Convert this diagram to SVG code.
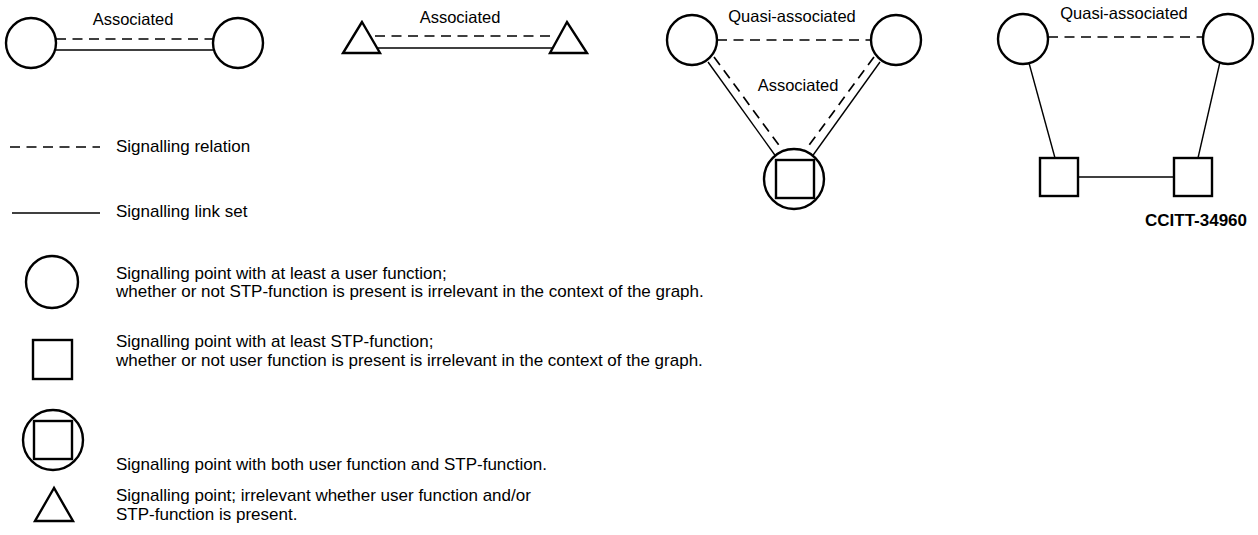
<svg xmlns="http://www.w3.org/2000/svg" width="1258" height="535" viewBox="0 0 1258 535">
<style>
.n{fill:#fff;stroke:#000;stroke-width:2.4}
.s{fill:none;stroke:#000;stroke-width:1.4}
.d{fill:none;stroke:#000;stroke-width:1.7;stroke-dasharray:10,6.5}
.t{font-family:"Liberation Sans",Arial,sans-serif;font-size:16.5px;fill:#000}
.l{font-family:"Liberation Sans",Arial,sans-serif;font-size:17px;fill:#000}
.b{font-family:"Liberation Sans",Arial,sans-serif;font-size:17px;font-weight:bold;fill:#000}
</style>
<rect width="1258" height="535" fill="#fff"/>
<g id="connectors">
<line class="d" x1="56" y1="39" x2="214" y2="39"/>
<line class="s" x1="56" y1="50" x2="214" y2="50"/>
<line class="d" x1="375" y1="36" x2="555" y2="36"/>
<line class="s" x1="378" y1="48" x2="552" y2="48"/>
<line class="d" x1="717" y1="40" x2="871" y2="40"/>
<line class="s" x1="708" y1="62" x2="777" y2="158"/>
<line class="d" x1="714" y1="57" x2="784" y2="152"/>
<line class="s" x1="880" y1="62" x2="811" y2="158"/>
<line class="d" x1="874" y1="57" x2="804" y2="152"/>
<line class="d" x1="1048" y1="37" x2="1203" y2="37"/>
<line class="s" x1="1029" y1="63" x2="1055" y2="158"/>
<line class="s" x1="1220" y1="62" x2="1198" y2="158"/>
<line class="s" x1="1078" y1="177" x2="1174" y2="177"/>
<line class="d" x1="10" y1="147" x2="100" y2="147"/>
<line class="s" x1="12" y1="213" x2="100" y2="213"/>
</g>
<g id="labels">
<text class="t" x="133" y="25" text-anchor="middle">Associated</text>
<text class="t" x="460" y="23" text-anchor="middle">Associated</text>
<text class="t" x="792" y="22" text-anchor="middle">Quasi-associated</text>
<text class="t" x="798" y="91" text-anchor="middle">Associated</text>
<text class="t" x="1124" y="19" text-anchor="middle">Quasi-associated</text>
<text class="b" x="1196" y="226" text-anchor="middle">CCITT-34960</text>
<text class="l" x="116" y="152">Signalling relation</text>
<text class="l" x="116" y="217">Signalling link set</text>
<text class="l" x="116" y="279">Signalling point with at least a user function;</text>
<text class="l" x="116" y="297">whether or not STP-function is present is irrelevant in the context of the graph.</text>
<text class="l" x="116" y="347">Signalling point with at least STP-function;</text>
<text class="l" x="116" y="366">whether or not user function is present is irrelevant in the context of the graph.</text>
<text class="l" x="116" y="470">Signalling point with both user function and STP-function.</text>
<text class="l" x="116" y="501">Signalling point; irrelevant whether user function and/or</text>
<text class="l" x="116" y="520">STP-function is present.</text>
</g>
<g id="n1"><circle class="n" cx="31" cy="43" r="25"/></g>
<g id="n2"><circle class="n" cx="238" cy="43" r="25"/></g>
<g id="n3"><polygon class="n" points="362,22 343,53 380,53"/></g>
<g id="n4"><polygon class="n" points="567,22 550,53 587,53"/></g>
<g id="n5"><circle class="n" cx="692" cy="40" r="25"/></g>
<g id="n6"><circle class="n" cx="896" cy="40" r="25"/></g>
<g id="n7"><circle class="n" cx="794" cy="179" r="30"/><rect class="n" x="776" y="160" width="38" height="38"/></g>
<g id="n8"><circle class="n" cx="1023" cy="39" r="25"/></g>
<g id="n9"><circle class="n" cx="1228" cy="39" r="25"/></g>
<g id="n10"><rect class="n" x="1040" y="158" width="38" height="38"/></g>
<g id="n11"><rect class="n" x="1174" y="158" width="38" height="38"/></g>
<g id="legend-circle"><circle class="n" cx="52" cy="282" r="26"/></g>
<g id="legend-square"><rect class="n" x="33" y="340" width="39" height="39"/></g>
<g id="legend-both"><circle class="n" cx="53" cy="440" r="30"/><rect class="n" x="34" y="421" width="38" height="38"/></g>
<g id="legend-triangle"><polygon class="n" points="54,488 35,521 73,521"/></g>
</svg>
